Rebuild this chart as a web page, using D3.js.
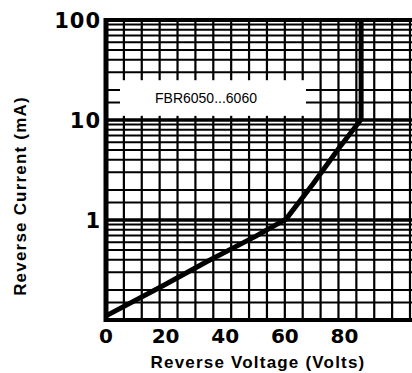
<!DOCTYPE html>
<html><head><meta charset="utf-8">
<script src="https://cdn.jsdelivr.net/npm/d3@7/dist/d3.min.js"></script>
<style>
html,body{margin:0;padding:0;background:#fff;}
svg{display:block;}
</style></head>
<body>
<script>
// ---- data ----
const voltage = [0, 19.1, 33.6, 50.3, 60.4, 69.5, 78.5, 84.6, 85.6, 85.6];
const current = [0.11, 0.22, 0.38, 0.69, 1.02, 2.3, 5.4, 9.3, 10.2, 100];
const xTickLabels = [0, 20, 40, 60, 80];
const yTickLabels = [1, 10, 100];
const seriesName = "FBR6050...6060";
const xTitle = "Reverse Voltage (Volts)";
const yTitle = "Reverse Current (mA)";

const W = 412, H = 373;
const svg = d3.select("body").append("svg").attr("width", W).attr("height", H);

const x = d3.scaleLinear().domain([0, 102]).range([106, 410]);
const y = d3.scaleLog().domain([0.1, 100]).range([320, 20]);

// grid
const xGrid = d3.range(0, 103, 6);
const minors = [1, 1.5, 2, 3, 4, 5, 6, 7, 8, 9];
const yGrid = [];
[0.1, 1, 10].forEach(d => minors.forEach(m => yGrid.push(+(d * m).toPrecision(3))));
yGrid.push(100);

const g = svg.append("g");
g.selectAll("line.vx").data(xGrid).join("line")
  .attr("x1", d => x(d)).attr("x2", d => x(d))
  .attr("y1", y(100)).attr("y2", y(0.1))
  .attr("stroke", "#000").attr("stroke-width", 2.2);
g.selectAll("line.hy").data(yGrid).join("line")
  .attr("x1", x(0)).attr("x2", W)
  .attr("y1", d => y(d)).attr("y2", d => y(d))
  .attr("stroke", "#000")
  .attr("stroke-width", d => ([0.1, 1, 10, 100].includes(d) ? 3.5 : 2));

// legend box
const boxTop = y(25), boxBot = y(11);
svg.append("rect").attr("x", 120).attr("y", boxTop).attr("width", 186).attr("height", boxBot - boxTop)
  .attr("fill", "#fff");
svg.append("text").attr("x", 206).attr("y", (boxTop + boxBot) / 2 + 5)
  .attr("text-anchor", "middle")
  .attr("font-family", "Liberation Sans Narrow, Arial Narrow, Liberation Sans, Arial, sans-serif")
  .attr("font-size", 14).attr("fill", "#000").text(seriesName);

// borders
svg.append("line").attr("x1", x(0)).attr("x2", x(0)).attr("y1", y(100) - 2).attr("y2", y(0.1) + 2)
  .attr("stroke", "#000").attr("stroke-width", 5);
svg.append("line").attr("x1", x(0) - 2).attr("x2", W).attr("y1", y(0.1)).attr("y2", y(0.1))
  .attr("stroke", "#000").attr("stroke-width", 4);
svg.append("line").attr("x1", x(0) - 2).attr("x2", W).attr("y1", y(100)).attr("y2", y(100))
  .attr("stroke", "#000").attr("stroke-width", 4);

// curve
const pts = voltage.map((v, i) => [v, current[i]]);
svg.append("path").datum(pts)
  .attr("d", d3.line().x(d => x(d[0])).y(d => y(d[1])))
  .attr("fill", "none").attr("stroke", "#000").attr("stroke-width", 5)
  .attr("stroke-linejoin", "round");

// tick labels
const tickFont = "DejaVu Sans, sans-serif";
svg.selectAll("text.xt").data(xTickLabels).join("text")
  .attr("x", d => x(d)).attr("y", 343)
  .attr("text-anchor", "middle").attr("font-family", tickFont)
  .attr("font-weight", "bold").attr("font-size", 20).text(d => d);
svg.selectAll("text.yt").data(yTickLabels).join("text")
  .attr("x", 101).attr("y", d => y(d) + 8)
  .attr("text-anchor", "end").attr("font-family", tickFont)
  .attr("font-weight", "bold").attr("font-size", 21).attr("letter-spacing", 1).text(d => d);

// axis titles
svg.append("text").attr("x", 258).attr("y", 368)
  .attr("text-anchor", "middle").attr("font-family", "Liberation Sans, Arial, sans-serif")
  .attr("font-weight", "bold").attr("font-size", 17).attr("letter-spacing", 1.2).text(xTitle);
svg.append("text").attr("transform", "translate(26,196) rotate(-90)")
  .attr("text-anchor", "middle").attr("font-family", "Liberation Sans, Arial, sans-serif")
  .attr("font-weight", "bold").attr("font-size", 17).attr("letter-spacing", 1.2).text(yTitle);
</script>
</body></html>
